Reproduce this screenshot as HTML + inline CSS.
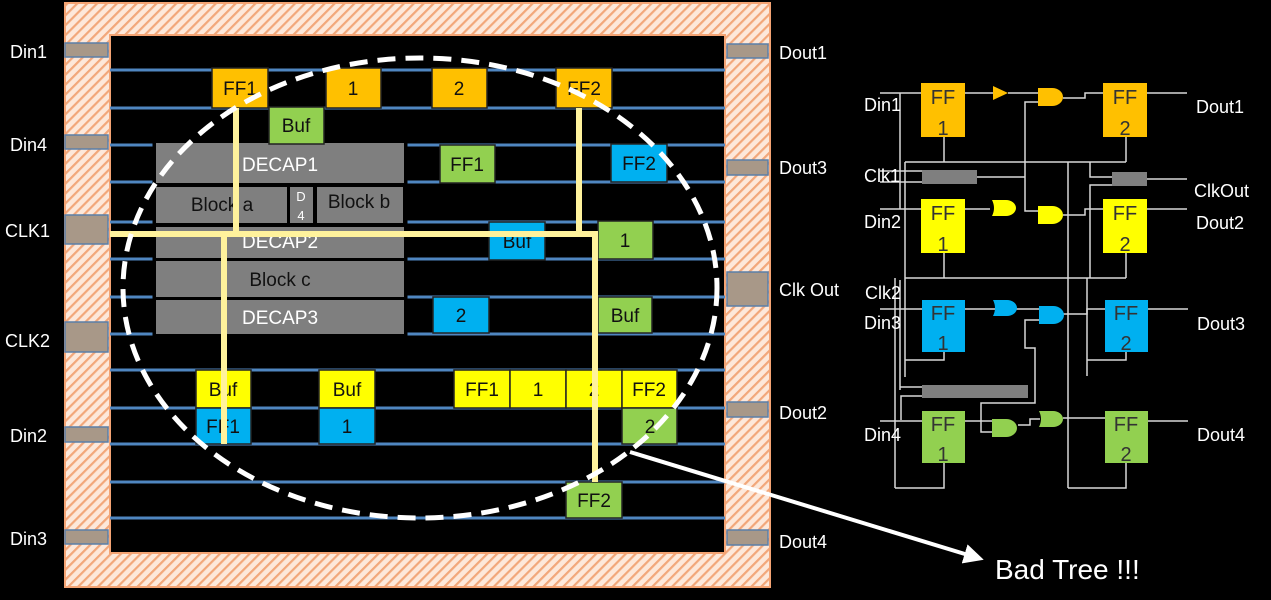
<!DOCTYPE html>
<html><head><meta charset="utf-8"><style>
html,body{margin:0;padding:0;background:#000;}
svg{display:block;}
text{font-family:"Liberation Sans",sans-serif;}
</style></head><body>
<svg width="1271" height="600" viewBox="0 0 1271 600" xmlns="http://www.w3.org/2000/svg">
<defs>
<pattern id="h" patternUnits="userSpaceOnUse" width="7" height="7" patternTransform="rotate(45)">
<rect width="7" height="7" fill="#fde8da"/><rect width="2.2" height="7" fill="#f2a77a"/>
</pattern>
<marker id="ar" markerWidth="5" markerHeight="5" refX="3.5" refY="2.5" orient="auto" markerUnits="strokeWidth"><path d="M0,0 L5,2.5 L0,5 z" fill="#fff"/></marker>
</defs>
<rect x="0" y="0" width="1271" height="600" fill="#000"/>
<rect x="65" y="3" width="705" height="584" fill="url(#h)" stroke="#f4a474" stroke-width="2"/>
<rect x="110" y="35" width="615" height="518" fill="#000" stroke="#f4a474" stroke-width="2"/>
<g fill="#a89888" stroke="#5a7fa8" stroke-width="1.5">
<rect x="65" y="43" width="43" height="14"/><rect x="65" y="135" width="43" height="14"/>
<rect x="65" y="215" width="43" height="29"/><rect x="65" y="322" width="43" height="30"/>
<rect x="65" y="427" width="43" height="15"/><rect x="65" y="530" width="43" height="14"/>
<rect x="727" y="44" width="41" height="14"/><rect x="727" y="160" width="41" height="15"/>
<rect x="727" y="272" width="41" height="34"/><rect x="727" y="402" width="41" height="15"/>
<rect x="727" y="530" width="41" height="15"/>
</g>
<g stroke="#4f86c0" stroke-width="3">
<line x1="110" y1="70" x2="725" y2="70"/><line x1="110" y1="108" x2="725" y2="108"/>
<line x1="110" y1="145" x2="725" y2="145"/><line x1="110" y1="182" x2="725" y2="182"/>
<line x1="110" y1="222" x2="725" y2="222"/><line x1="110" y1="259" x2="725" y2="259"/>
<line x1="110" y1="297" x2="725" y2="297"/><line x1="110" y1="334" x2="725" y2="334"/>
<line x1="110" y1="370" x2="725" y2="370"/><line x1="110" y1="408" x2="725" y2="408"/>
<line x1="110" y1="444" x2="725" y2="444"/><line x1="110" y1="482" x2="725" y2="482"/>
<line x1="110" y1="518" x2="725" y2="518"/>
</g>
<g stroke="#000" stroke-width="3">
<rect x="154" y="142" width="252" height="42" fill="#000"/>
<rect x="154" y="185" width="252" height="150" fill="#000"/>
</g>
<g fill="#7f7f7f">
<rect x="156" y="143" width="248" height="40"/>
<rect x="156" y="187" width="131" height="36"/><rect x="290" y="187" width="23" height="36"/><rect x="317" y="187" width="86" height="36"/>
<rect x="156" y="227" width="248" height="31"/><rect x="156" y="261" width="248" height="36"/><rect x="156" y="300" width="248" height="34"/>
</g>
<g font-size="19" text-anchor="middle">
<text x="280" y="171" fill="#fff">DECAP1</text>
<text x="222" y="211" fill="#111">Block a</text>
<text x="301" y="201" fill="#fff" font-size="13">D</text><text x="301" y="220" fill="#fff" font-size="13">4</text>
<text x="359" y="208" fill="#111">Block b</text>
<text x="280" y="248" fill="#fff">DECAP2</text>
<text x="280" y="286" fill="#111">Block c</text>
<text x="280" y="324" fill="#fff">DECAP3</text>
</g>
<g stroke="#222" stroke-width="1.5">
<rect x="212" y="68" width="56" height="40" fill="#ffc000"/>
<rect x="326" y="68" width="55" height="40" fill="#ffc000"/>
<rect x="432" y="68" width="55" height="40" fill="#ffc000"/>
<rect x="556" y="68" width="56" height="40" fill="#ffc000"/>
<rect x="269" y="107" width="55" height="37" fill="#92d050"/>
<rect x="440" y="145" width="55" height="38" fill="#92d050"/>
<rect x="611" y="144" width="56" height="38" fill="#00b0f0"/>
<rect x="489" y="222" width="56" height="38" fill="#00b0f0"/>
<rect x="598" y="221" width="55" height="38" fill="#92d050"/>
<rect x="433" y="297" width="56" height="36" fill="#00b0f0"/>
<rect x="598" y="297" width="54" height="36" fill="#92d050"/>
<rect x="196" y="370" width="55" height="38" fill="#ffff00"/>
<rect x="319" y="370" width="56" height="38" fill="#ffff00"/>
<rect x="454" y="370" width="56" height="38" fill="#ffff00"/>
<rect x="510" y="370" width="56" height="38" fill="#ffff00"/>
<rect x="566" y="370" width="56" height="38" fill="#ffff00"/>
<rect x="622" y="370" width="55" height="38" fill="#ffff00"/>
<rect x="196" y="408" width="55" height="36" fill="#00b0f0"/>
<rect x="319" y="408" width="56" height="36" fill="#00b0f0"/>
<rect x="622" y="408" width="55" height="36" fill="#92d050"/>
<rect x="566" y="482" width="56" height="36" fill="#92d050"/>
</g>
<g font-size="19" text-anchor="middle" fill="#111">
<text x="240" y="95">FF1</text><text x="353" y="95">1</text><text x="459" y="95">2</text><text x="584" y="95">FF2</text>
<text x="296" y="132">Buf</text><text x="467" y="171">FF1</text><text x="639" y="170">FF2</text>
<text x="517" y="248">Buf</text><text x="625" y="247">1</text>
<text x="461" y="322">2</text><text x="625" y="322">Buf</text>
<text x="223" y="396">Buf</text><text x="347" y="396">Buf</text><text x="482" y="396">FF1</text><text x="538" y="396">1</text><text x="594" y="396">2</text><text x="649" y="396">FF2</text>
<text x="223" y="433">FF1</text><text x="347" y="433">1</text><text x="650" y="433">2</text>
<text x="594" y="507">FF2</text>
</g>
<g stroke="#fff29c" stroke-width="6" fill="none">
<line x1="110" y1="234" x2="598" y2="234"/>
<line x1="236" y1="108" x2="236" y2="234"/>
<line x1="224" y1="234" x2="224" y2="444"/>
<line x1="579" y1="108" x2="579" y2="234"/>
<line x1="595" y1="234" x2="595" y2="482"/>
</g>
<ellipse cx="420" cy="288" rx="297" ry="230" fill="none" stroke="#fff" stroke-width="5" stroke-dasharray="18 10"/>
<line x1="630" y1="452" x2="978" y2="558" stroke="#fff" stroke-width="4" marker-end="url(#ar)"/>
<text x="995" y="579" font-size="28" fill="#fff">Bad Tree !!!</text>
<g font-size="18" fill="#fff">
<text x="10" y="58">Din1</text><text x="10" y="151">Din4</text><text x="5" y="237">CLK1</text>
<text x="5" y="347">CLK2</text><text x="10" y="442">Din2</text><text x="10" y="545">Din3</text>
<text x="779" y="59">Dout1</text><text x="779" y="174">Dout3</text><text x="779" y="296">Clk Out</text>
<text x="779" y="419">Dout2</text><text x="779" y="548">Dout4</text>
</g>
<g stroke="#d8d8d8" stroke-width="1.5" fill="none">
<line x1="880" y1="93" x2="921" y2="93"/><line x1="965" y1="93" x2="993" y2="93"/><line x1="1008" y1="93" x2="1040" y2="93"/>
<polyline points="1063,98 1085,98 1085,93 1103,93"/><line x1="1147" y1="93" x2="1187" y2="93"/>
<line x1="880" y1="209" x2="921" y2="209"/><line x1="965" y1="209" x2="990" y2="209"/>
<polyline points="1063,215 1085,215 1085,209 1103,209"/><line x1="1147" y1="209" x2="1187" y2="209"/>
<line x1="905" y1="162" x2="1126" y2="162"/><line x1="944" y1="137" x2="944" y2="162"/><line x1="1126" y1="137" x2="1126" y2="162"/>
<line x1="905" y1="278" x2="1126" y2="278"/><line x1="944" y1="253" x2="944" y2="278"/><line x1="1126" y1="253" x2="1126" y2="278"/>
<line x1="900" y1="93" x2="900" y2="209"/><line x1="905" y1="162" x2="905" y2="377"/>
<line x1="895" y1="278" x2="895" y2="488"/><line x1="900" y1="280" x2="900" y2="390"/>
<polyline points="1040,102 1025,102 1025,211 1040,211"/>
<line x1="977" y1="177" x2="1025" y2="177"/>
<line x1="880" y1="171" x2="922" y2="171"/><line x1="880" y1="182" x2="922" y2="182"/>
<line x1="1068" y1="162" x2="1068" y2="488"/><line x1="1087" y1="278" x2="1087" y2="376"/>
<polyline points="1090,162 1090,177 1112,177"/><polyline points="1112,185 1090,185 1090,278"/>
<line x1="1147" y1="179" x2="1187" y2="179"/>
<line x1="880" y1="309" x2="922" y2="309"/><line x1="965" y1="309" x2="1000" y2="309"/><line x1="1010" y1="309" x2="1040" y2="309"/>
<polyline points="1063,314 1087,314 1087,309 1105,309"/><line x1="1148" y1="309" x2="1188" y2="309"/>
<polyline points="1040,320 1025,320 1025,348 1035,348 1035,403 981,403 981,432 1000,432"/>
<polyline points="905,360 944,360 944,352"/><polyline points="1087,360 1126,360 1126,352"/>
<line x1="900" y1="387" x2="922" y2="387"/><polyline points="922,396 901,396 901,420"/>
<line x1="880" y1="421" x2="922" y2="421"/><line x1="965" y1="421" x2="1000" y2="421"/>
<polyline points="1018,425 1030,425 1030,419 1040,419"/><line x1="1063" y1="418" x2="1105" y2="418"/><line x1="1148" y1="421" x2="1188" y2="421"/>
<polyline points="895,488 944,488 944,463"/><polyline points="1068,488 1126,488 1126,463"/>
</g>
<g font-size="20" text-anchor="middle" fill="#333">
<rect x="921" y="83" width="44" height="54" fill="#ffc000"/><text x="943" y="104">FF</text><text x="943" y="135">1</text>
<rect x="1103" y="83" width="44" height="54" fill="#ffc000"/><text x="1125" y="104">FF</text><text x="1125" y="135">2</text>
<rect x="921" y="199" width="44" height="54" fill="#ffff00"/><text x="943" y="220">FF</text><text x="943" y="251">1</text>
<rect x="1103" y="199" width="44" height="54" fill="#ffff00"/><text x="1125" y="220">FF</text><text x="1125" y="251">2</text>
<rect x="922" y="300" width="43" height="52" fill="#00b0f0"/><text x="943" y="320">FF</text><text x="943" y="350">1</text>
<rect x="1105" y="300" width="43" height="52" fill="#00b0f0"/><text x="1126" y="320">FF</text><text x="1126" y="350">2</text>
<rect x="922" y="411" width="43" height="52" fill="#92d050"/><text x="943" y="431">FF</text><text x="943" y="461">1</text>
<rect x="1105" y="411" width="43" height="52" fill="#92d050"/><text x="1126" y="431">FF</text><text x="1126" y="461">2</text>
</g>
<g fill="#7f7f7f"><rect x="922" y="170" width="55" height="14"/><rect x="1112" y="172" width="35" height="14"/><rect x="922" y="385" width="106" height="13"/></g>
<polygon points="993,86 1008,93 993,100" fill="#ffc000"/>
<path d="M1038,88 h14 a11,9 0 0 1 0,18 h-14 z" fill="#ffc000"/>
<path d="M992,200 h14 a10,8 0 0 1 0,16 h-14 q4,-8 0,-16 z" fill="#ffff00"/>
<path d="M1038,206 h14 a11,9 0 0 1 0,18 h-14 z" fill="#ffff00"/>
<path d="M993,300 h14 a10,8 0 0 1 0,16 h-14 q4,-8 0,-16 z" fill="#00b0f0"/>
<path d="M1039,306 h14 a11,9 0 0 1 0,18 h-14 z" fill="#00b0f0"/>
<path d="M992,419 h14 a11,9 0 0 1 0,18 h-14 z" fill="#92d050"/>
<path d="M1039,411 h14 a10,8 0 0 1 0,16 h-14 q4,-8 0,-16 z" fill="#92d050"/>
<g font-size="18" fill="#fff">
<text x="864" y="111">Din1</text><text x="864" y="182">Clk1</text><text x="864" y="228">Din2</text>
<text x="865" y="299">Clk2</text><text x="864" y="329">Din3</text><text x="864" y="441">Din4</text>
<text x="1196" y="113">Dout1</text><text x="1194" y="197">ClkOut</text><text x="1196" y="229">Dout2</text>
<text x="1197" y="330">Dout3</text><text x="1197" y="441">Dout4</text>
</g>
</svg>
</body></html>
